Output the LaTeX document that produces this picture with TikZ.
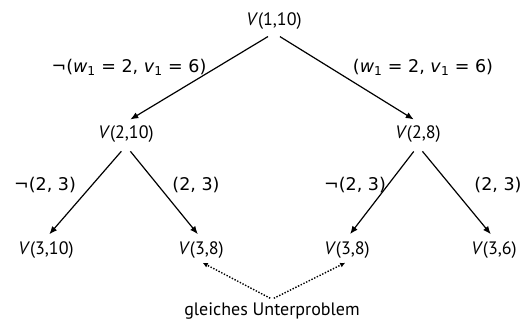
\documentclass[tikz,border=0pt]{standalone}
\usepackage{fontspec}
\setmainfont{PT Sans}
\newfontfamily\labfont{DejaVu Sans}
\usetikzlibrary{arrows.meta}
\newcommand{\vv}[1]{\textit{V}(#1)}
\newcommand{\wsub}[2]{\textit{#1}\textsubscript{#2}}
\begin{document}
\begin{tikzpicture}[x=1pt,y=-1pt,font=\fontsize{18}{21}\selectfont,
  >={Latex[length=8pt,width=6.5pt]},
  branch/.style={->,line width=1.2pt,shorten <=7pt,shorten >=5pt},
  edgelab/.style={font=\labfont\fontsize{17.5}{21}\selectfont},
  same/.style={-{Latex[length=5pt,width=5pt]},line width=1.4pt,dash pattern=on 1.4pt off 1.6pt,shorten <=2pt,shorten >=2pt}]
\useasboundingbox (0,0) rectangle (530,325);
\node (v110) at (274,21) {\vv{1,10}};
\node (v210) at (126,134) {\vv{2,10}};
\node (v28) at (418,134) {\vv{2,8}};
\node (v310) at (46,250) {\vv{3,10}};
\node (v38a) at (201,250) {\vv{3,8}};
\node (v38b) at (347,250) {\vv{3,8}};
\node (v36) at (494,250) {\vv{3,6}};
\node (gu) at (272,311) {gleiches Unterproblem};
\draw[branch] (v110.south) -- (v210.north);
\draw[branch] (v110.south) -- (v28.north);
\draw[branch] (v210.south) -- (v310.north);
\draw[branch] (v210.south) -- (v38a.north);
\draw[branch] (v28.south) -- (v38b.north);
\draw[branch] (v28.south) -- (v36.north);
\draw[same] (gu.north) -- (v38a.south);
\draw[same] (gu.north) -- (v38b.south);
\node[edgelab] (lab1) at (129,67) {¬(\wsub{w}{1} = 2, \wsub{v}{1} = 6)};
\node[edgelab] (lab2) at (423,67) {(\wsub{w}{1} = 2, \wsub{v}{1} = 6)};
\node[edgelab] (lab3) at (45,185) {¬(2, 3)};
\node[edgelab] (lab4) at (196,185) {(2, 3)};
\node[edgelab] (lab5) at (355,185) {¬(2, 3)};
\node[edgelab] (lab6) at (498,185) {(2, 3)};
\end{tikzpicture}
\end{document}
